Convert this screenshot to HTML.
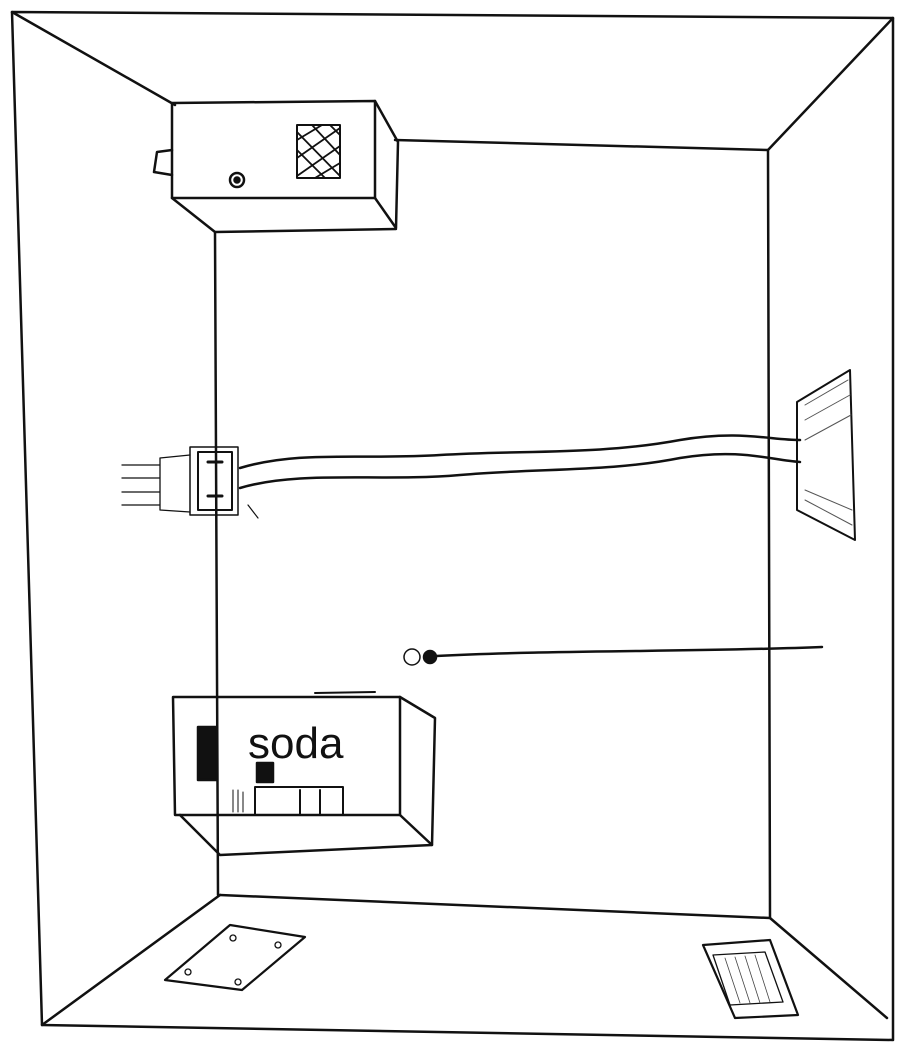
<!DOCTYPE html>
<html><head><meta charset="utf-8"><style>
html,body{margin:0;padding:0;background:#fff;width:900px;height:1048px;overflow:hidden}
svg{display:block}
text{font-family:"Liberation Sans",sans-serif}
</style></head><body>
<svg width="900" height="1048" viewBox="0 0 900 1048" xmlns="http://www.w3.org/2000/svg" fill="none" stroke="#111" stroke-width="2.5" stroke-linecap="round" stroke-linejoin="round">
<!-- outer frame -->
<path d="M12 12 L893 18 L893 1040 L42 1025 Z"/>
<!-- inner back wall -->
<path d="M395 140 L768 150 L770 918 L220 895"/>
<path d="M215 232 L218 895"/>
<!-- diagonals -->
<path d="M12 12 L175 105"/>
<path d="M893 18 L768 150"/>
<path d="M770 918 L887 1018"/>
<path d="M220 895 L42 1025"/>
<!-- top device -->
<path d="M172 103 L375 101 L375 198 L172 198 Z"/>
<path d="M375 101 L398 142 L396 228 L375 198"/>
<path d="M172 198 L215 232 L396 229"/>
<path d="M297 125 L340 125 L340 178 L297 178 Z" stroke-width="2"/>
<path d="M297 140 L322 125 M297 158 L340 128 M297 176 L340 146 M315 178 L340 163 M297 132 L340 176 M297 150 L325 178 M312 125 L340 155 M330 125 L340 135" stroke-width="1.8"/>
<circle cx="237" cy="180" r="7"/>
<circle cx="237" cy="180" r="2.5" fill="#111"/>
<path d="M172 150 L157 152 L154 172 L172 175"/>
<!-- outlet -->
<rect x="190" y="447" width="48" height="68" stroke-width="1.5"/>
<rect x="198" y="452" width="34" height="58" stroke-width="2"/>
<path d="M208 462 L222 462 M208 496 L222 496" stroke-width="3"/>
<path d="M122 465 L160 465 L160 478 L122 478 M122 492 L160 492 L160 505 L122 505 M160 458 L190 455 M160 510 L190 512 M160 458 L160 510" stroke-width="1.3"/>
<path d="M248 505 L258 518" stroke-width="1.2"/>
<!-- cable -->
<path d="M240 468 C300 450 360 460 440 455 C520 450 600 455 680 440 C740 430 770 440 800 440" stroke-width="2.5"/>
<path d="M240 488 C300 470 380 482 460 475 C540 468 610 472 680 458 C740 448 770 460 800 462" stroke-width="2.5"/>
<!-- wall plate right -->
<path d="M797 402 L850 370 L855 540 L797 510 Z" stroke-width="2"/>
<path d="M805 405 L848 380 M805 420 L850 395 M805 440 L851 415 M805 500 L852 525 M805 490 L852 510" stroke-width="1" stroke="#555"/>
<!-- bulb -->
<circle cx="412" cy="657" r="8" stroke-width="1.5"/>
<circle cx="430" cy="657" r="6" fill="#111"/>
<path d="M436 656 C550 650 700 652 822 647" stroke-width="2.5"/>
<!-- soda box -->
<path d="M173 697 L400 697 L400 815 L175 815 Z"/>
<path d="M400 697 L435 718 L432 845 L400 815"/>
<path d="M180 815 L220 855 L432 845"/>
<path d="M315 693 L375 692" stroke-width="2"/>
<rect x="198" y="727" width="19" height="53" fill="#111"/>
<rect x="257" y="763" width="16" height="19" fill="#111"/>
<path d="M255 787 L343 787 L343 815 M255 787 L255 815 M300 790 L300 815 M320 790 L320 815" stroke-width="2"/>
<path d="M233 790 L233 812 M238 790 L238 812 M243 792 L243 812" stroke-width="1"/>
<text x="248" y="758" font-size="44" fill="#111" stroke="none">soda</text>
<!-- floor plate left -->
<path d="M165 980 L230 925 L305 937 L242 990 Z" stroke-width="2.2"/>
<circle cx="233" cy="938" r="3" stroke-width="1.3"/>
<circle cx="278" cy="945" r="3" stroke-width="1.3"/>
<circle cx="188" cy="972" r="3" stroke-width="1.3"/>
<circle cx="238" cy="982" r="3" stroke-width="1.3"/>
<!-- floor plate right -->
<path d="M703 945 L770 940 L798 1015 L735 1018 Z" stroke-width="2.2"/>
<path d="M713 955 L765 952 L783 1002 L730 1005 Z" stroke-width="1.3"/>
<path d="M725 958 L740 1003 M735 957 L750 1003 M745 956 L760 1003 M755 955 L770 1002" stroke-width="0.8" stroke="#444"/>
</svg>
</body></html>
